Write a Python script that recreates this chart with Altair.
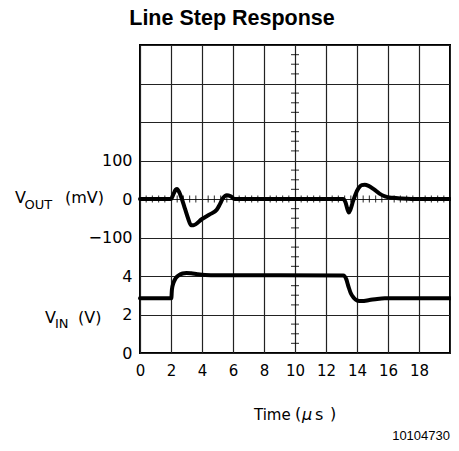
import json
import altair as alt
import pandas as pd

# ---- data ----
# V_OUT trace (time in microseconds, output deviation in mV)
t_out = [0, 2.0, 2.15, 2.3, 2.4, 2.5, 2.7, 2.9, 3.1, 3.3, 3.45, 4.0, 4.5, 4.95,
         5.15, 5.35, 5.6, 5.85, 6.1, 13.1, 13.25, 13.38, 13.47, 13.58, 13.75,
         13.9, 14.1, 14.3, 14.5, 14.75, 15.1, 15.45, 15.8, 16.3, 16.9, 17.5, 20]
mv_out = [0, 0, 12, 24, 26, 20, 0, -25, -50, -68, -68, -52, -40, -28,
          -14, 2, 10, 7, 0, 0, -8, -26, -35, -27, -5,
          12, 28, 36, 37, 34, 25, 14, 7, 3, 1, 0, 0]

# V_IN trace (time in microseconds, input in V)
t_in = [0, 2.02, 2.06, 2.15, 2.3, 2.5, 2.75, 3.0, 3.3, 3.7, 4.2, 5.0, 13.12,
        13.3, 13.45, 13.6, 13.8, 14.0, 14.3, 14.8, 15.3, 15.8, 20]
v_in = [2.84, 2.84, 3.3, 3.62, 3.88, 4.04, 4.13, 4.16, 4.14, 4.09, 4.05, 4.04, 4.03,
        3.85, 3.45, 3.1, 2.86, 2.73, 2.70, 2.75, 2.81, 2.84, 2.84]

# axis ticks / labels
x_ticks = [0, 2, 4, 6, 8, 10, 12, 14, 16, 18, 20]
x_labels = ["0", "2", "4", "6", "8", "10", "12", "14", "16", "18", ""]
y_rows = [0, 1, 2, 3, 4, 5, 6, 7, 8]
y_labels = ["0", "2", "4", "\u2212100", "0", "100", "", "", ""]

# oscilloscope graticule minor ticks
minor_y = [i * 0.25 for i in range(33) if i % 4 != 0]
minor_x = [round(i * 0.4, 2) for i in range(51) if i % 5 != 0]

FONT = "DejaVu Sans"
INK = "#000000"
GRID = "#222222"

x_scale = alt.Scale(domain=[0, 20], nice=False, zero=False)
y_scale = alt.Scale(domain=[0, 8], nice=False, zero=False)

x_axis = alt.Axis(
    values=x_ticks,
    labelExpr=f"{json.dumps(x_labels)}[round(datum.value / 2)]",
    grid=True, gridColor=GRID, gridWidth=1.2,
    ticks=False, domain=False,
    labelFont=FONT, labelFontSize=15, labelColor=INK, labelPadding=10,
    labelFlush=False, labelOverlap=False,
    title=None,
)
y_axis = alt.Axis(
    values=y_rows,
    labelExpr=f"{json.dumps(y_labels)}[round(datum.value)]",
    grid=True, gridColor=GRID, gridWidth=1.2,
    ticks=False, domain=False,
    labelFont=FONT, labelFontSize=16, labelColor=INK, labelPadding=8,
    labelFlush=False, labelOverlap=False,
    title=None,
)


def X(field):
    return alt.X(field, type="quantitative", scale=x_scale, axis=x_axis)


def Y(field):
    return alt.Y(field, type="quantitative", scale=y_scale, axis=y_axis)


df_out = pd.DataFrame({"t": t_out, "mv": mv_out})
df_in = pd.DataFrame({"t": t_in, "v": v_in})

vout = (
    alt.Chart(df_out)
    .transform_calculate(yv="4 + datum.mv / 100")
    .mark_line(color=INK, strokeWidth=4, interpolate="monotone",
               strokeCap="round", strokeJoin="round")
    .encode(x=X("t"), y=Y("yv"))
)
vin = (
    alt.Chart(df_in)
    .transform_calculate(yv="datum.v / 2")
    .mark_line(color=INK, strokeWidth=4, interpolate="monotone",
               strokeCap="round", strokeJoin="round")
    .encode(x=X("t"), y=Y("yv"))
)

ticks_v = (
    alt.Chart(pd.DataFrame({"y": minor_y, "x": [10] * len(minor_y)}))
    .mark_tick(orient="horizontal", size=8, thickness=1.2, color=INK)
    .encode(x=X("x"), y=Y("y"))
)
ticks_h = (
    alt.Chart(pd.DataFrame({"x": minor_x, "y": [4] * len(minor_x)}))
    .mark_tick(orient="vertical", size=7, thickness=1.2, color=INK)
    .encode(x=X("x"), y=Y("y"))
)

one = pd.DataFrame({"k": [0]})


def label(text, px, row, dy, size):
    return (
        alt.Chart(one)
        .mark_text(text=text, align="left", baseline="middle", dy=dy,
                   font=FONT, fontSize=size, color=INK)
        .encode(x=alt.value(px),
                y=alt.YDatum(row, type="quantitative", scale=y_scale, axis=y_axis))
    )


def note(text, px, py, size, font=FONT, align="left", style="normal",
         weight="normal", baseline="middle"):
    return (
        alt.Chart(one)
        .mark_text(text=text, align=align, baseline=baseline, font=font,
                   fontSize=size, fontStyle=style, fontWeight=weight, color=INK)
        .encode(x=alt.value(px), y=alt.value(py))
    )


labels = [
    label("V", -125, 4, -1.5, 16),
    label("OUT", -115.5, 4, 5.5, 13),
    label("(mV)", -75, 4, -1, 16),
    label("V", -95, 1, 3.5, 16),
    label("IN", -85, 1, 9.5, 13),
    label("(V)", -62, 1, 3.5, 16),
]

texts = [
    note("Line Step Response", 92, -20, 21.5, font="Liberation Sans",
         align="center", weight="bold", baseline="alphabetic"),
    note("Time", 114, 370, 15),
    note("(", 155, 369, 16),
    note("\u03bc", 162, 370, 16, style="italic"),
    note("s", 175, 370, 16),
    note(")", 190, 369, 16),
    note("10104730", 310, 391, 13, font="Liberation Sans", align="right"),
]

chart = (
    alt.layer(vout, vin, ticks_v, ticks_h, *labels, *texts)
    .properties(
        width=310, height=308,
        autosize=alt.AutoSizeParams(type="none"),
        padding={"left": 132, "top": 37, "right": 1, "bottom": 90},
        background="white",
    )
    .configure_view(stroke=INK, strokeWidth=2)
)

chart.save("out.html", embed_options={"renderer": "svg", "actions": False})
